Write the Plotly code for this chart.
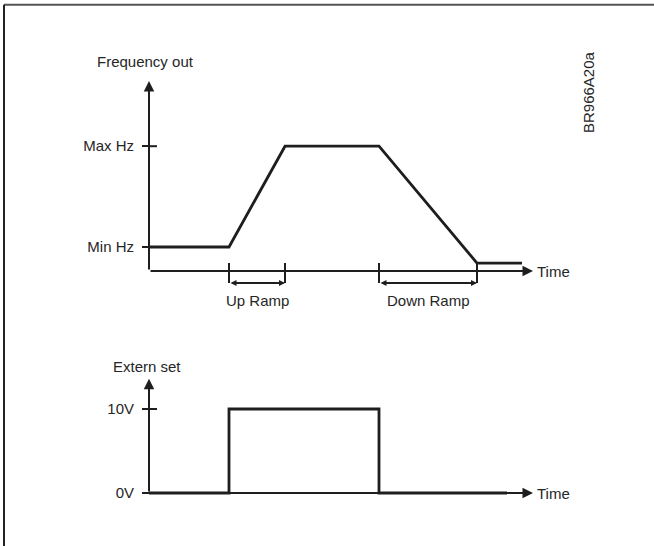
import plotly.graph_objects as go

W, H = 654, 546

# ---- data (arbitrary units) ----
time_freq = [0, 8, 13.6, 23, 32.8, 37.3]
freq_out = [10, 10, 52, 52, 3.3, 3.3]
time_set = [0, 8, 8, 23, 23, 35.8]
volt_set = [0, 0, 10, 10, 0, 0]
freq_ticks = [10, 52]
freq_tick_labels = ["Min Hz", "Max Hz"]
volt_ticks = [0, 10]
volt_tick_labels = ["0V", "10V"]
ramp_up = [8, 13.6]
ramp_down = [23, 32.8]
ramp_labels = ["Up Ramp", "Down Ramp"]
time_axis_end = 38.4
freq_axis_top = 79.2
volt_axis_top = 13.6

# ---- layout helpers (pixel mapping of the two panels) ----
X0_PX, PX_PER_T = 149, 10
x_rng = [(0 - X0_PX) / PX_PER_T, (W - X0_PX) / PX_PER_T]


def y_setup(px_top, px_bottom, zero_px, px_per_unit):
    dom = [1 - px_bottom / H, 1 - px_top / H]
    rng = [(zero_px - px_bottom) / px_per_unit, (zero_px - px_top) / px_per_unit]
    return dom, rng


dom1, rng1 = y_setup(30, 315, 271, 2.4)
dom2, rng2 = y_setup(330, 540, 493, 8.4)

INK = "#1e1e1e"
TXT = "#262626"
FONT = dict(family="Liberation Sans, Arial, sans-serif", size=15, color=TXT)

fig = go.Figure()
fig.add_trace(go.Scatter(x=time_freq, y=freq_out, mode="lines",
                         line=dict(color=INK, width=2.8), xaxis="x", yaxis="y",
                         hoverinfo="skip", showlegend=False))
fig.add_trace(go.Scatter(x=time_set, y=volt_set, mode="lines",
                         line=dict(color=INK, width=2.8), xaxis="x2", yaxis="y2",
                         hoverinfo="skip", showlegend=False))

ann = []
shapes = []


def arrow(xref, yref, x0, y0, x1, y1, size=1.05, side="end", width=2):
    ann.append(dict(x=x1, y=y1, ax=x0, ay=y0, xref=xref, yref=yref,
                    axref=xref, ayref=yref, text="", showarrow=True,
                    arrowhead=2, arrowsize=size, arrowwidth=width,
                    arrowcolor=INK, arrowside=side, standoff=0, startstandoff=0))


# axes with arrows
arrow("x", "y", 0, 0, time_axis_end, 0)
arrow("x", "y", 0, 0, 0, freq_axis_top)
arrow("x2", "y2", 0, 0, time_axis_end, 0)
arrow("x2", "y2", 0, 0, 0, volt_axis_top)

# inner halves of the crossing tick marks
for v in freq_ticks:
    shapes.append(dict(type="line", xref="x", yref="y", x0=0, x1=0.8, y0=v, y1=v,
                       line=dict(color=INK, width=2)))
for v in volt_ticks[1:]:
    shapes.append(dict(type="line", xref="x2", yref="y2", x0=0, x1=0.8, y0=v, y1=v,
                       line=dict(color=INK, width=2)))

# ramp markers
for (a, b), lab in zip([ramp_up, ramp_down], ramp_labels):
    for t in (a, b):
        shapes.append(dict(type="line", xref="x", yref="y", x0=t, x1=t, y0=3.3, y1=-5,
                           line=dict(color=INK, width=2)))
    arrow("x", "y", a, -5, b, -5, size=0.6, side="end+start")
    ann.append(dict(x=(a + b) / 2, y=-12.1, xref="x", yref="y", text=lab,
                    showarrow=False, font=FONT, xanchor="center", yanchor="middle"))

# axis titles
ann.append(dict(x=-0.4, y=87.1, xref="x", yref="y", text="Frequency out",
                showarrow=False, font=FONT, xanchor="center", yanchor="middle"))
ann.append(dict(x=-0.2, y=15.1, xref="x2", yref="y2", text="Extern set",
                showarrow=False, font=FONT, xanchor="center", yanchor="middle"))
ann.append(dict(x=time_axis_end + 0.2, y=0, xref="x", yref="y", text="Time",
                showarrow=False, font=FONT, xanchor="left", yanchor="middle"))
ann.append(dict(x=time_axis_end + 0.2, y=0, xref="x2", yref="y2", text="Time",
                showarrow=False, font=FONT, xanchor="left", yanchor="middle"))

# drawing id
ann.append(dict(x=588 / W, y=1 - 92 / H, xref="paper", yref="paper", text="BR966A20a",
                textangle=-90, showarrow=False, font=FONT,
                xanchor="center", yanchor="middle"))

# frame lines (top and left)
shapes.append(dict(type="line", xref="paper", yref="paper", x0=4 / W, x1=1,
                   y0=1 - 4.7 / H, y1=1 - 4.7 / H, line=dict(color="#555555", width=2)))
shapes.append(dict(type="line", xref="paper", yref="paper", x0=4 / W, x1=4 / W,
                   y0=0, y1=1 - 4.7 / H, line=dict(color="#222222", width=2)))

yaxis_common = dict(showline=False, showgrid=False, zeroline=False,
                    ticks="outside", ticklen=7, tickwidth=2, tickcolor=INK,
                    tickfont=FONT, anchor="free", position=X0_PX / W,
                    ticklabelstandoff=5, fixedrange=True)

fig.update_layout(
    width=W, height=H,
    margin=dict(l=0, r=0, t=0, b=0),
    paper_bgcolor="white", plot_bgcolor="rgba(0,0,0,0)",
    showlegend=False,
    xaxis=dict(domain=[0, 1], range=x_rng, visible=False, anchor="y", fixedrange=True),
    xaxis2=dict(domain=[0, 1], range=x_rng, visible=False, anchor="y2", fixedrange=True),
    yaxis=dict(domain=dom1, range=rng1, tickvals=freq_ticks, ticktext=freq_tick_labels,
               **yaxis_common),
    yaxis2=dict(domain=dom2, range=rng2, tickvals=volt_ticks, ticktext=volt_tick_labels,
                **yaxis_common),
    annotations=ann,
    shapes=shapes,
)

fig.write_html("out.html", config={"displayModeBar": False},
               post_script="document.body.style.margin='0';document.body.style.overflow='hidden';")
